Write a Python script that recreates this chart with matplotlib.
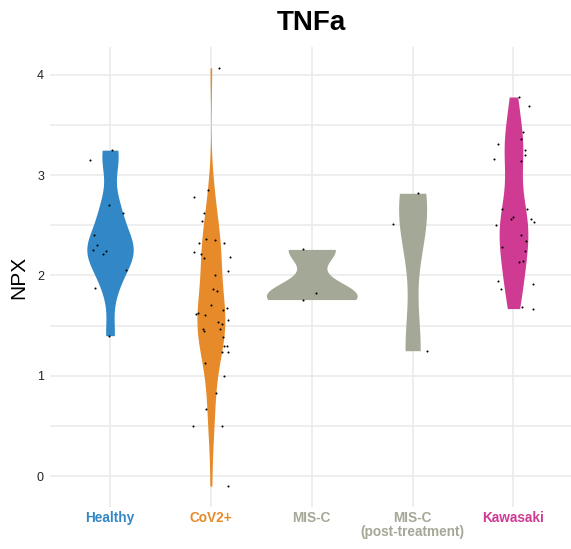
import numpy as np
import matplotlib.pyplot as plt

plt.rcParams['font.family'] = ['Liberation Sans', 'DejaVu Sans']

# Data --------------------------------------------------------
groups = ['Healthy', 'CoV2+', 'MIS-C', 'MIS-C\n(post-treatment)', 'Kawasaki']
colors = ['#3288C7', '#E68A2A', '#A4A896', '#A4A896', '#CF3A92']

healthy = [3.25, 3.15, 2.70, 2.62, 2.40, 2.30, 2.25, 2.24, 2.21, 2.05, 1.88, 1.40]
healthy_jit = [0.02, -0.20, -0.01, 0.13, -0.16, -0.13, -0.17, -0.04, -0.07, 0.16, -0.15, -0.01]

cov2 = [4.07, 2.85, 2.78, 2.62, 2.54, 2.36, 2.35, 2.32, 2.32, 2.23, 2.21, 2.17, 2.18, 2.04,
        2.00, 1.87, 1.85, 1.71, 1.68, 1.66, 1.63, 1.62, 1.61, 1.56, 1.54, 1.52, 1.47, 1.47,
        1.45, 1.39, 1.30, 1.30, 1.24, 1.24, 1.13, 1.00, 0.83, 0.67, 0.50, 0.50, -0.10]
cov2_jit = [0.08, -0.03, -0.17, -0.07, -0.09, -0.05, 0.04, 0.13, -0.12, -0.17, -0.10, -0.07,
            0.19, 0.17, 0.04, 0.02, 0.06, 0.00, 0.16, 0.12, -0.13, -0.15, -0.06, 0.17, 0.07,
            0.11, -0.08, 0.09, -0.07, 0.12, 0.13, 0.16, 0.11, 0.17, -0.06, 0.13, 0.05, -0.05,
            -0.18, 0.11, 0.17]

misc = [2.26, 1.83, 1.76]
misc_jit = [-0.09, 0.04, -0.09]

misc_post = [2.82, 2.51, 1.25]
misc_post_jit = [0.05, -0.19, 0.14]

kawasaki = [3.78, 3.69, 3.43, 3.36, 3.31, 3.25, 3.20, 3.14, 3.16, 2.66, 2.66, 2.58, 2.56,
            2.56, 2.53, 2.50, 2.40, 2.34, 2.28, 2.24, 2.14, 2.13, 1.95, 1.92, 1.87, 1.69, 1.67]
kawasaki_jit = [0.05, 0.15, 0.09, 0.07, -0.15, 0.11, 0.11, 0.07, -0.19, -0.11, 0.13, 0.00,
                -0.02, 0.17, 0.20, -0.17, 0.07, 0.12, -0.11, 0.11, 0.09, 0.05, -0.15, 0.19,
                -0.12, 0.08, 0.19]

values = [healthy, cov2, misc, misc_post, kawasaki]
jitter = [healthy_jit, cov2_jit, misc_jit, misc_post_jit, kawasaki_jit]


def bw_nrd0(x):
    x = np.asarray(x)
    sd = x.std(ddof=1)
    q1, q3 = np.percentile(x, [25, 75])
    lo = min(sd, (q3 - q1) / 1.34)
    if lo == 0:
        lo = sd
    return 0.9 * lo * len(x) ** (-0.2)


def kde(x, grid):
    x = np.asarray(x)
    bw = bw_nrd0(x)
    z = (grid[:, None] - x[None, :]) / bw
    return np.exp(-0.5 * z ** 2).sum(axis=1) / (len(x) * bw * np.sqrt(2 * np.pi))


# densities (trimmed to data range, scale = "area")
grids, dens = [], []
for v in values:
    g = np.linspace(min(v), max(v), 512)
    grids.append(g)
    dens.append(kde(v, g))
dmax = max(d.max() for d in dens)

fig = plt.figure(figsize=(5.71, 5.49), dpi=100)
ax = fig.add_axes([49.5 / 571, 42 / 549, 524.5 / 571, 460 / 549])

for i, (g, d, c) in enumerate(zip(grids, dens, colors)):
    pos = i + 1
    half = d / dmax * 0.45
    ax.fill_betweenx(g, pos - half, pos + half, color=c, lw=0, zorder=2)

for i, (v, j) in enumerate(zip(values, jitter)):
    ax.scatter(np.array(j) + i + 1, v, s=2.2, color='black', lw=0, zorder=3)

allv = np.concatenate([np.array(v) for v in values])
span = allv.max() - allv.min()
ax.set_xlim(0.4, 5.6)
ax.set_ylim(allv.min() - 0.05 * span, allv.max() + 0.05 * span)

ax.set_xticks(range(1, 6))
ax.set_xticklabels(groups, fontsize=9.8, fontweight='bold', linespacing=1.0)
for lab, c in zip(ax.get_xticklabels(), colors):
    lab.set_color(c)
ax.set_yticks([0, 1, 2, 3, 4])
ax.set_yticks([0.5, 1.5, 2.5, 3.5], minor=True)
ax.tick_params(axis='y', labelsize=9, colors='#222222', length=0, pad=4)
ax.tick_params(axis='x', length=0, pad=3)
ax.tick_params(which='minor', length=0)
ax.grid(True, which='both', color='#EBEBEB', lw=1.2, zorder=0)
ax.set_axisbelow(True)
for s in ax.spines.values():
    s.set_visible(False)

ax.set_ylabel('NPX', fontsize=15, labelpad=6)
fig.text(311.7 / 571, 1 - 23 / 549, 'TNFa', fontsize=20, fontweight='bold',
         ha='center', va='center')

fig.savefig('out.png', dpi=100)
